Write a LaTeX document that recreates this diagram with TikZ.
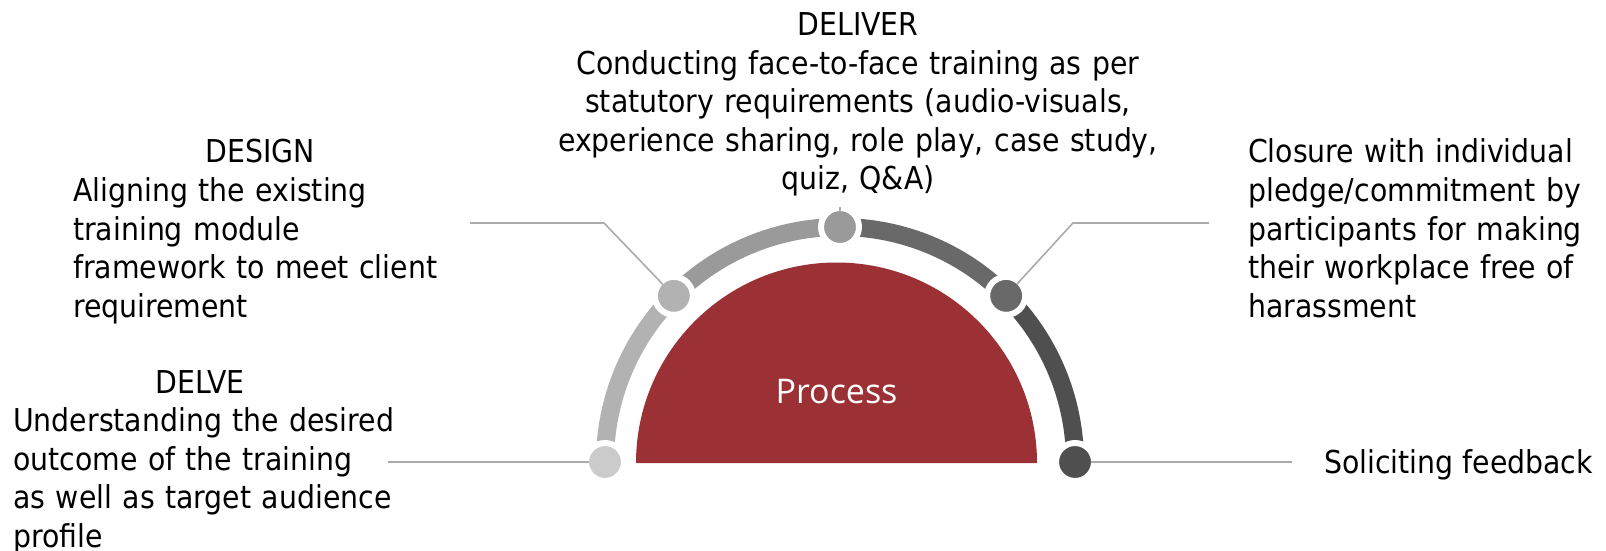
\documentclass[tikz,border=0pt]{standalone}
\usepackage{fontspec}
\setmainfont{DejaVu Sans Condensed}
\newfontfamily\procfont{Open Sans}
\usepackage{tikz}
\usetikzlibrary{positioning,calc}
\usepackage{xcolor}

\definecolor{procred}{RGB}{155,49,53}
\definecolor{greyA}{HTML}{CBCBCB}
\definecolor{greyB}{HTML}{B2B2B2}
\definecolor{greyC}{HTML}{9A9A9A}
\definecolor{greyD}{HTML}{696969}
\definecolor{greyE}{HTML}{4F4F4F}
\definecolor{leadgrey}{HTML}{ABABAB}

\tikzset{
  ringdot/.style={circle, fill=#1, draw=white, line width=6pt, minimum size=38pt, inner sep=0pt, outer sep=-3pt},
  band/.style={draw=#1, line width=18pt},
  leaderline/.style={draw=leadgrey, line width=1.6pt},
  bodytext/.style={inner sep=0pt, text=black, font=\fontsize{31.5}{38.5}\selectfont}
}

\begin{document}
\begin{tikzpicture}[x=1pt,y=1pt]
    \useasboundingbox (0,0) rectangle (1606,550);
    \coordinate (c) at (840,88);

    % Half disc
    \fill[procred] (636,87) arc[start angle=180, end angle=0, radius=200.5] -- cycle;
    \node[text=white, inner sep=0pt, anchor=base, font=\procfont\fontsize{34}{40}\selectfont] (process) at (836.5,147) {Process};

    % Ring
    \draw[band=greyB] ($(c)+(180:235)$) arc[start angle=180, end angle=135, radius=235];
    \draw[band=greyC] ($(c)+(135:235)$) arc[start angle=135, end angle=90, radius=235];
    \draw[band=greyD] ($(c)+(90:235)$) arc[start angle=90, end angle=45, radius=235];
    \draw[band=greyE] ($(c)+(45:235)$) arc[start angle=45, end angle=0, radius=235];

    \node[ringdot=greyA] (delve) at ($(c)+(180:235)$) {};
    \node[ringdot=greyB] (design) at ($(c)+(135:235)$) {};
    \node[ringdot=greyC] (deliver) at ($(c)+(90:235)$) {};
    \node[ringdot=greyD] (closure) at ($(c)+(45:235)$) {};
    \node[ringdot=greyE] (feedback) at ($(c)+(0:235)$) {};

    % Leaders
    \coordinate (delveEnd) at (388,88);
    \coordinate (designEnd) at (470,327);
    \coordinate (designBend) at (604,327);
    \coordinate (deliverEnd) at (840,343);
    \coordinate (closureBend) at (1073,327);
    \coordinate (closureEnd) at (1209,327);
    \coordinate (feedbackEnd) at (1292,88);
    \draw[leaderline] (delveEnd) -- (delve);
    \draw[leaderline] (designEnd) -- (designBend) -- (design);
    \draw[leaderline] (deliverEnd) -- (deliver);
    \draw[leaderline] (closure) -- (closureBend) -- (closureEnd);
    \draw[leaderline] (feedback) -- (feedbackEnd);

    % Texts
    \node[bodytext, text width=620pt, align=center, anchor=base] (deliverText) at (858,514)
        {DELIVER\\ Conducting face-to-face training as per\\ statutory requirements (audio-visuals,\\ experience sharing, role play, case study,\\ quiz, Q\&A)};
    \node[bodytext, text width=410pt, align=left, anchor=base west] (designText) at (73,387)
        {\makebox[374pt][c]{DESIGN}\\ Aligning the existing\\ training module\\ framework to meet client\\ requirement};
    \node[bodytext, text width=410pt, align=left, anchor=base west] (delveText) at (13,157)
        {\makebox[374pt][c]{DELVE}\\ Understanding the desired\\ outcome of the training\\ as well as target audience\\ profile};
    \node[bodytext, text width=358pt, align=left, anchor=base west] (closureText) at (1248,387)
        {Closure with individual\\ pledge/commitment by\\ participants for making\\ their workplace free of\\ harassment};
    \node[bodytext, anchor=base west] (feedbackText) at (1324,77) {Soliciting feedback};
\end{tikzpicture}
\end{document}
